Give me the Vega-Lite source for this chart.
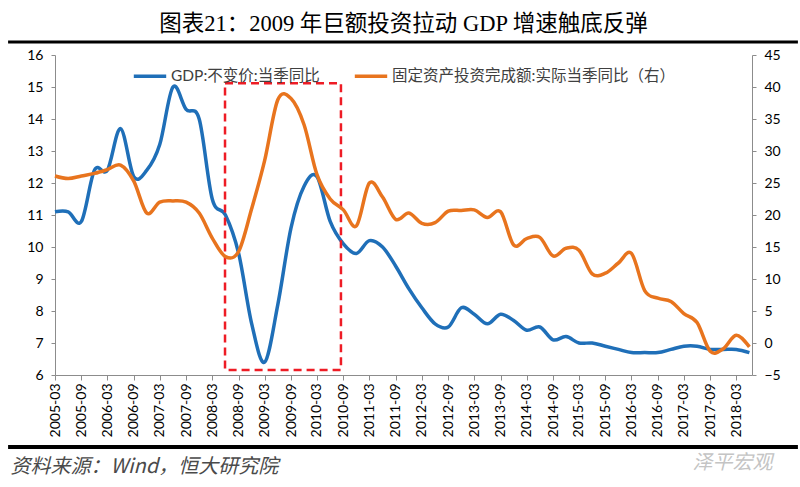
{
  "$schema": "https://vega.github.io/schema/vega-lite/v6.json",
  "width": 697,
  "height": 320,
  "autosize": {"type": "none"},
  "padding": {"left": 55, "top": 55, "right": 48, "bottom": 112},
  "background": "white",
  "title": {
    "text": "图表21：2009 年巨额投资拉动 GDP 增速触底反弹",
    "font": "Liberation Serif, Noto Sans CJK SC",
    "fontSize": 22.5,
    "fontWeight": "normal",
    "color": "#000000",
    "anchor": "middle",
    "frame": "group",
    "offset": 5
  },
  "config": {
    "view": {"stroke": null},
    "axis": {"grid": false, "labelFont": "Lato", "labelFontSize": 14, "labelColor": "#000000", "tickColor": "#8c8c8c", "domainColor": "#8c8c8c"},
    "axisX": {"labelAngle": -90, "labelPadding": 3, "tickSize": 5, "labelOverlap": false, "labelFlush": false},
    "axisY": {"labelPadding": 8, "tickSize": 4, "labelOverlap": false}
  },
  "data": {
    "values": [
      {"m": "2005-03", "gdp": 11.1, "fai": 26.1},
      {"m": "2005-06", "gdp": 11.1, "fai": 25.7},
      {"m": "2005-09", "gdp": 10.8, "fai": 26.1},
      {"m": "2005-12", "gdp": 12.4, "fai": 26.5},
      {"m": "2006-03", "gdp": 12.4, "fai": 27.1},
      {"m": "2006-06", "gdp": 13.7, "fai": 27.8},
      {"m": "2006-09", "gdp": 12.2, "fai": 25.3},
      {"m": "2006-12", "gdp": 12.4, "fai": 20.3},
      {"m": "2007-03", "gdp": 13.2, "fai": 22.0},
      {"m": "2007-06", "gdp": 15.0, "fai": 22.2},
      {"m": "2007-09", "gdp": 14.3, "fai": 22.0},
      {"m": "2007-12", "gdp": 14.0, "fai": 20.3},
      {"m": "2008-03", "gdp": 11.5, "fai": 16.4},
      {"m": "2008-06", "gdp": 11.0, "fai": 13.5},
      {"m": "2008-09", "gdp": 9.8, "fai": 14.3},
      {"m": "2008-12", "gdp": 7.6, "fai": 21.0},
      {"m": "2009-03", "gdp": 6.4, "fai": 28.5},
      {"m": "2009-06", "gdp": 8.2, "fai": 38.0},
      {"m": "2009-09", "gdp": 10.6, "fai": 38.2},
      {"m": "2009-12", "gdp": 11.9, "fai": 34.1},
      {"m": "2010-03", "gdp": 12.2, "fai": 26.3},
      {"m": "2010-06", "gdp": 10.8, "fai": 22.5},
      {"m": "2010-09", "gdp": 10.1, "fai": 20.8},
      {"m": "2010-12", "gdp": 9.8, "fai": 18.3},
      {"m": "2011-03", "gdp": 10.2, "fai": 25.0},
      {"m": "2011-06", "gdp": 10.0, "fai": 22.8},
      {"m": "2011-09", "gdp": 9.4, "fai": 19.3},
      {"m": "2011-12", "gdp": 8.7, "fai": 20.3},
      {"m": "2012-03", "gdp": 8.1, "fai": 18.7},
      {"m": "2012-06", "gdp": 7.6, "fai": 18.8},
      {"m": "2012-09", "gdp": 7.5, "fai": 20.6},
      {"m": "2012-12", "gdp": 8.1, "fai": 20.7},
      {"m": "2013-03", "gdp": 7.9, "fai": 20.8},
      {"m": "2013-06", "gdp": 7.6, "fai": 19.6},
      {"m": "2013-09", "gdp": 7.9, "fai": 20.5},
      {"m": "2013-12", "gdp": 7.7, "fai": 15.3},
      {"m": "2014-03", "gdp": 7.4, "fai": 16.3},
      {"m": "2014-06", "gdp": 7.5, "fai": 16.5},
      {"m": "2014-09", "gdp": 7.1, "fai": 13.6},
      {"m": "2014-12", "gdp": 7.2, "fai": 14.8},
      {"m": "2015-03", "gdp": 7.0, "fai": 14.5},
      {"m": "2015-06", "gdp": 7.0, "fai": 10.8},
      {"m": "2015-09", "gdp": 6.9, "fai": 10.9},
      {"m": "2015-12", "gdp": 6.8, "fai": 12.5},
      {"m": "2016-03", "gdp": 6.7, "fai": 14.0},
      {"m": "2016-06", "gdp": 6.7, "fai": 8.2},
      {"m": "2016-09", "gdp": 6.7, "fai": 7.0},
      {"m": "2016-12", "gdp": 6.8, "fai": 6.5},
      {"m": "2017-03", "gdp": 6.9, "fai": 4.6},
      {"m": "2017-06", "gdp": 6.9, "fai": 3.2},
      {"m": "2017-09", "gdp": 6.8, "fai": -1.3},
      {"m": "2017-12", "gdp": 6.8, "fai": -0.9},
      {"m": "2018-03", "gdp": 6.8, "fai": 1.2},
      {"m": "2018-06", "gdp": 6.7, "fai": -0.6}
    ],
    "format": {"parse": {"m": "date:'%Y-%m'"}}
  },
  "layer": [
    {
      "layer": [
        {
          "mark": {"type": "line", "interpolate": "cardinal", "strokeWidth": 3.5},
          "encoding": {
            "x": {
              "field": "m", "type": "temporal",
              "scale": {"domain": [{"year": 2005, "month": 3, "date": 1}, {"year": 2018, "month": 6, "date": 19}]},
              "axis": {
                "values": [
                  {"year": 2005, "month": 3, "date": 1}, {"year": 2005, "month": 9, "date": 1},
                  {"year": 2006, "month": 3, "date": 1}, {"year": 2006, "month": 9, "date": 1},
                  {"year": 2007, "month": 3, "date": 1}, {"year": 2007, "month": 9, "date": 1},
                  {"year": 2008, "month": 3, "date": 1}, {"year": 2008, "month": 9, "date": 1},
                  {"year": 2009, "month": 3, "date": 1}, {"year": 2009, "month": 9, "date": 1},
                  {"year": 2010, "month": 3, "date": 1}, {"year": 2010, "month": 9, "date": 1},
                  {"year": 2011, "month": 3, "date": 1}, {"year": 2011, "month": 9, "date": 1},
                  {"year": 2012, "month": 3, "date": 1}, {"year": 2012, "month": 9, "date": 1},
                  {"year": 2013, "month": 3, "date": 1}, {"year": 2013, "month": 9, "date": 1},
                  {"year": 2014, "month": 3, "date": 1}, {"year": 2014, "month": 9, "date": 1},
                  {"year": 2015, "month": 3, "date": 1}, {"year": 2015, "month": 9, "date": 1},
                  {"year": 2016, "month": 3, "date": 1}, {"year": 2016, "month": 9, "date": 1},
                  {"year": 2017, "month": 3, "date": 1}, {"year": 2017, "month": 9, "date": 1},
                  {"year": 2018, "month": 3, "date": 1}
                ],
                "format": "%Y-%m",
                "title": "资料来源：Wind，恒大研究院",
                "titleFont": "Noto Sans CJK SC",
                "titleFontStyle": "italic",
                "titleFontWeight": "normal",
                "titleFontSize": 20,
                "titleColor": "#4a4a4a",
                "titleAnchor": "start",
                "titleAlign": "left",
                "titleBaseline": "middle",
                "titleX": -45,
                "titleY": 91
              }
            },
            "y": {
              "field": "gdp", "type": "quantitative",
              "scale": {"domain": [6, 16]},
              "axis": {"orient": "left", "values": [6, 7, 8, 9, 10, 11, 12, 13, 14, 15, 16], "title": null}
            },
            "color": {
              "datum": "GDP:不变价:当季同比",
              "type": "nominal",
              "scale": {
                "domain": ["GDP:不变价:当季同比", "固定资产投资完成额:实际当季同比（右）"],
                "range": ["#1f6fb8", "#e8741e"]
              },
              "legend": {
                "orient": "none",
                "legendX": 77,
                "legendY": 3,
                "direction": "horizontal",
                "title": null,
                "symbolType": "stroke",
                "symbolStrokeWidth": 3.5,
                "symbolSize": 1050,
                "labelFont": "Lato, Noto Sans CJK SC",
                "labelFontSize": 15.5,
                "labelColor": "#404040",
                "labelOffset": 3,
                "labelLimit": 400,
                "columnPadding": 27
              }
            }
          }
        },
        {
          "data": {"values": [{}]},
          "mark": {"type": "rule", "color": "#000000", "strokeWidth": 3},
          "encoding": {
            "x": {"datum": {"year": 2004, "month": 4, "date": 8}, "type": "temporal",
                  "title": "资料来源：Wind，恒大研究院",
                  "axis": {"values": [
                  {"year": 2005, "month": 3, "date": 1}, {"year": 2005, "month": 9, "date": 1},
                  {"year": 2006, "month": 3, "date": 1}, {"year": 2006, "month": 9, "date": 1},
                  {"year": 2007, "month": 3, "date": 1}, {"year": 2007, "month": 9, "date": 1},
                  {"year": 2008, "month": 3, "date": 1}, {"year": 2008, "month": 9, "date": 1},
                  {"year": 2009, "month": 3, "date": 1}, {"year": 2009, "month": 9, "date": 1},
                  {"year": 2010, "month": 3, "date": 1}, {"year": 2010, "month": 9, "date": 1},
                  {"year": 2011, "month": 3, "date": 1}, {"year": 2011, "month": 9, "date": 1},
                  {"year": 2012, "month": 3, "date": 1}, {"year": 2012, "month": 9, "date": 1},
                  {"year": 2013, "month": 3, "date": 1}, {"year": 2013, "month": 9, "date": 1},
                  {"year": 2014, "month": 3, "date": 1}, {"year": 2014, "month": 9, "date": 1},
                  {"year": 2015, "month": 3, "date": 1}, {"year": 2015, "month": 9, "date": 1},
                  {"year": 2016, "month": 3, "date": 1}, {"year": 2016, "month": 9, "date": 1},
                  {"year": 2017, "month": 3, "date": 1}, {"year": 2017, "month": 9, "date": 1},
                  {"year": 2018, "month": 3, "date": 1}
                  ], "format": "%Y-%m"},
                  "scale": {"domain": [{"year": 2005, "month": 3, "date": 1}, {"year": 2018, "month": 6, "date": 19}]}},
            "x2": {"datum": {"year": 2019, "month": 5, "date": 5}},
            "y": {"datum": 16.41, "type": "quantitative", "title": null,
                  "axis": {"values": [6, 7, 8, 9, 10, 11, 12, 13, 14, 15, 16]},
                  "scale": {"domain": [6, 16]}}
          }
        },
        {
          "data": {"values": [{}]},
          "mark": {"type": "rule", "color": "#000000", "strokeWidth": 4},
          "encoding": {
            "x": {"datum": {"year": 2004, "month": 4, "date": 8}, "type": "temporal",
                  "title": "资料来源：Wind，恒大研究院",
                  "axis": {"values": [
                  {"year": 2005, "month": 3, "date": 1}, {"year": 2005, "month": 9, "date": 1},
                  {"year": 2006, "month": 3, "date": 1}, {"year": 2006, "month": 9, "date": 1},
                  {"year": 2007, "month": 3, "date": 1}, {"year": 2007, "month": 9, "date": 1},
                  {"year": 2008, "month": 3, "date": 1}, {"year": 2008, "month": 9, "date": 1},
                  {"year": 2009, "month": 3, "date": 1}, {"year": 2009, "month": 9, "date": 1},
                  {"year": 2010, "month": 3, "date": 1}, {"year": 2010, "month": 9, "date": 1},
                  {"year": 2011, "month": 3, "date": 1}, {"year": 2011, "month": 9, "date": 1},
                  {"year": 2012, "month": 3, "date": 1}, {"year": 2012, "month": 9, "date": 1},
                  {"year": 2013, "month": 3, "date": 1}, {"year": 2013, "month": 9, "date": 1},
                  {"year": 2014, "month": 3, "date": 1}, {"year": 2014, "month": 9, "date": 1},
                  {"year": 2015, "month": 3, "date": 1}, {"year": 2015, "month": 9, "date": 1},
                  {"year": 2016, "month": 3, "date": 1}, {"year": 2016, "month": 9, "date": 1},
                  {"year": 2017, "month": 3, "date": 1}, {"year": 2017, "month": 9, "date": 1},
                  {"year": 2018, "month": 3, "date": 1}
                  ], "format": "%Y-%m"},
                  "scale": {"domain": [{"year": 2005, "month": 3, "date": 1}, {"year": 2018, "month": 6, "date": 19}]}},
            "x2": {"datum": {"year": 2019, "month": 5, "date": 5}},
            "y": {"datum": 3.75, "type": "quantitative", "title": null,
                  "axis": {"values": [6, 7, 8, 9, 10, 11, 12, 13, 14, 15, 16]},
                  "scale": {"domain": [6, 16]}}
          }
        },
        {
          "data": {"values": [{}]},
          "mark": {"type": "rect", "fill": null, "fillOpacity": 0, "stroke": "#ee1c25", "strokeWidth": 2.5, "strokeDash": [8, 5]},
          "encoding": {
            "x": {"datum": {"year": 2008, "month": 5, "date": 29}, "type": "temporal",
                  "title": "资料来源：Wind，恒大研究院",
                  "axis": {"values": [
                  {"year": 2005, "month": 3, "date": 1}, {"year": 2005, "month": 9, "date": 1},
                  {"year": 2006, "month": 3, "date": 1}, {"year": 2006, "month": 9, "date": 1},
                  {"year": 2007, "month": 3, "date": 1}, {"year": 2007, "month": 9, "date": 1},
                  {"year": 2008, "month": 3, "date": 1}, {"year": 2008, "month": 9, "date": 1},
                  {"year": 2009, "month": 3, "date": 1}, {"year": 2009, "month": 9, "date": 1},
                  {"year": 2010, "month": 3, "date": 1}, {"year": 2010, "month": 9, "date": 1},
                  {"year": 2011, "month": 3, "date": 1}, {"year": 2011, "month": 9, "date": 1},
                  {"year": 2012, "month": 3, "date": 1}, {"year": 2012, "month": 9, "date": 1},
                  {"year": 2013, "month": 3, "date": 1}, {"year": 2013, "month": 9, "date": 1},
                  {"year": 2014, "month": 3, "date": 1}, {"year": 2014, "month": 9, "date": 1},
                  {"year": 2015, "month": 3, "date": 1}, {"year": 2015, "month": 9, "date": 1},
                  {"year": 2016, "month": 3, "date": 1}, {"year": 2016, "month": 9, "date": 1},
                  {"year": 2017, "month": 3, "date": 1}, {"year": 2017, "month": 9, "date": 1},
                  {"year": 2018, "month": 3, "date": 1}
                  ], "format": "%Y-%m"},
                  "scale": {"domain": [{"year": 2005, "month": 3, "date": 1}, {"year": 2018, "month": 6, "date": 19}]}},
            "x2": {"datum": {"year": 2010, "month": 8, "date": 15}},
            "y": {"datum": 15.12, "type": "quantitative", "title": null,
                  "axis": {"values": [6, 7, 8, 9, 10, 11, 12, 13, 14, 15, 16]},
                  "scale": {"domain": [6, 16]}},
            "y2": {"datum": 6.16}
          }
        }
      ]
    },
    {
      "mark": {"type": "line", "interpolate": "cardinal", "strokeWidth": 3.5},
      "encoding": {
        "x": {
          "field": "m", "type": "temporal",
          "title": "资料来源：Wind，恒大研究院",
          "axis": {"values": [
                  {"year": 2005, "month": 3, "date": 1}, {"year": 2005, "month": 9, "date": 1},
                  {"year": 2006, "month": 3, "date": 1}, {"year": 2006, "month": 9, "date": 1},
                  {"year": 2007, "month": 3, "date": 1}, {"year": 2007, "month": 9, "date": 1},
                  {"year": 2008, "month": 3, "date": 1}, {"year": 2008, "month": 9, "date": 1},
                  {"year": 2009, "month": 3, "date": 1}, {"year": 2009, "month": 9, "date": 1},
                  {"year": 2010, "month": 3, "date": 1}, {"year": 2010, "month": 9, "date": 1},
                  {"year": 2011, "month": 3, "date": 1}, {"year": 2011, "month": 9, "date": 1},
                  {"year": 2012, "month": 3, "date": 1}, {"year": 2012, "month": 9, "date": 1},
                  {"year": 2013, "month": 3, "date": 1}, {"year": 2013, "month": 9, "date": 1},
                  {"year": 2014, "month": 3, "date": 1}, {"year": 2014, "month": 9, "date": 1},
                  {"year": 2015, "month": 3, "date": 1}, {"year": 2015, "month": 9, "date": 1},
                  {"year": 2016, "month": 3, "date": 1}, {"year": 2016, "month": 9, "date": 1},
                  {"year": 2017, "month": 3, "date": 1}, {"year": 2017, "month": 9, "date": 1},
                  {"year": 2018, "month": 3, "date": 1}
                  ], "format": "%Y-%m"},
          "scale": {"domain": [{"year": 2005, "month": 3, "date": 1}, {"year": 2018, "month": 6, "date": 19}]}
        },
        "y": {
          "field": "fai", "type": "quantitative",
          "scale": {"domain": [-5, 45]},
          "axis": {
            "orient": "right",
            "values": [-5, 0, 5, 10, 15, 20, 25, 30, 35, 40, 45],
            "title": "泽平宏观",
            "titleFont": "Noto Sans CJK SC",
            "titleFontStyle": "italic",
            "titleFontWeight": "normal",
            "titleFontSize": 20,
            "titleColor": "#c4c4c4",
            "titleAngle": 0,
            "titleAlign": "left",
            "titleBaseline": "middle",
            "titleX": -60,
            "titleY": 407
          }
        },
        "color": {"datum": "固定资产投资完成额:实际当季同比（右）", "type": "nominal"}
      }
    }
  ],
  "resolve": {"scale": {"y": "independent"}, "axis": {"y": "independent"}}
}
